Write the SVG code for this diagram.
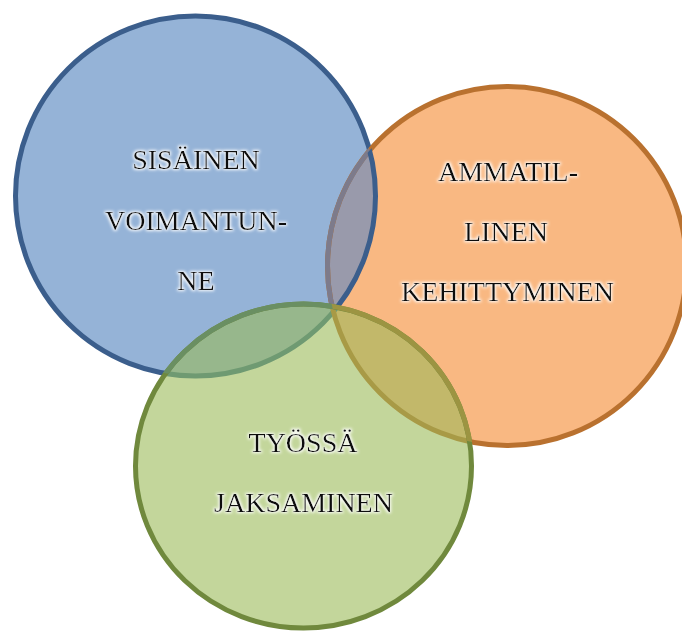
<svg xmlns="http://www.w3.org/2000/svg" xmlns:xlink="http://www.w3.org/1999/xlink" width="682" height="632" viewBox="0 0 682 632">
  <defs>
    <style>
      .label { font-family: "Liberation Serif", "DejaVu Serif", serif; font-size: 28px; fill: #0d0d0d; text-anchor: middle; filter: url(#glow); }
      .ring { fill: none; stroke-width: 5; }
    </style>
    <!-- soft white halo behind the labels -->
    <filter id="glow" x="-10%" y="-40%" width="120%" height="180%">
      <feMorphology in="SourceAlpha" operator="dilate" radius="1.2" result="grow"/>
      <feGaussianBlur in="grow" stdDeviation="1.6" result="soft"/>
      <feFlood flood-color="#ffffff" flood-opacity="0.95"/>
      <feComposite in2="soft" operator="in" result="halo"/>
      <feMerge>
        <feMergeNode in="halo"/>
        <feMergeNode in="SourceGraphic"/>
      </feMerge>
    </filter>
    <circle id="shape-blue" cx="195.5" cy="196" r="180"/>
    <circle id="shape-orange" cx="507" cy="266" r="179.5"/>
    <ellipse id="shape-green" cx="303.5" cy="466" rx="168" ry="162"/>
    <clipPath id="in-blue"><use xlink:href="#shape-blue"/></clipPath>
    <clipPath id="in-orange"><use xlink:href="#shape-orange"/></clipPath>
    <clipPath id="in-green"><use xlink:href="#shape-green"/></clipPath>
  </defs>

  <rect width="682" height="632" fill="#ffffff"/>

  <!-- inner strength -->
  <g id="node-sisainen">
    <use xlink:href="#shape-blue" fill="#95b3d7"/>
    <use xlink:href="#shape-blue" class="ring" stroke="#3b5e8c"/>
  </g>

  <!-- professional development -->
  <g id="node-ammatillinen">
    <use xlink:href="#shape-orange" fill="#f9b882"/>
    <use xlink:href="#shape-orange" fill="#999aab" clip-path="url(#in-blue)"/>
    <use xlink:href="#shape-orange" class="ring" stroke="#b9712f"/>
    <use xlink:href="#shape-orange" class="ring" stroke="#7d7b8b" clip-path="url(#in-blue)"/>
    <!-- the blue outline stays on top inside the orange disc -->
    <use xlink:href="#shape-blue" class="ring" stroke="#3b5e8c" clip-path="url(#in-orange)"/>
  </g>

  <!-- coping at work -->
  <g id="node-tyossa">
    <use xlink:href="#shape-green" fill="#c3d69b"/>
    <use xlink:href="#shape-green" fill="#97b78c" clip-path="url(#in-blue)"/>
    <use xlink:href="#shape-green" fill="#c2b86a" clip-path="url(#in-orange)"/>
    <g clip-path="url(#in-blue)">
      <use xlink:href="#shape-green" fill="#93a880" clip-path="url(#in-orange)"/>
    </g>
    <use xlink:href="#shape-blue" class="ring" stroke="#6f9a72" clip-path="url(#in-green)"/>
    <use xlink:href="#shape-orange" class="ring" stroke="#a89a46" clip-path="url(#in-green)"/>
    <use xlink:href="#shape-green" class="ring" stroke="#70893d"/>
    <use xlink:href="#shape-green" class="ring" stroke="#6a8f62" clip-path="url(#in-blue)"/>
    <use xlink:href="#shape-green" class="ring" stroke="#9c9442" clip-path="url(#in-orange)"/>
  </g>

  <g id="labels">
    <text class="label" x="196" y="169">SISÄINEN</text>
    <text class="label" x="196" y="229.5">VOIMANTUN-</text>
    <text class="label" x="196" y="290">NE</text>
    <text class="label" x="508" y="181">AMMATIL-</text>
    <text class="label" x="506" y="241">LINEN</text>
    <text class="label" x="507.5" y="301">KEHITTYMINEN</text>
    <text class="label" x="303" y="452">TYÖSSÄ</text>
    <text class="label" x="303.5" y="512">JAKSAMINEN</text>
  </g>
</svg>
